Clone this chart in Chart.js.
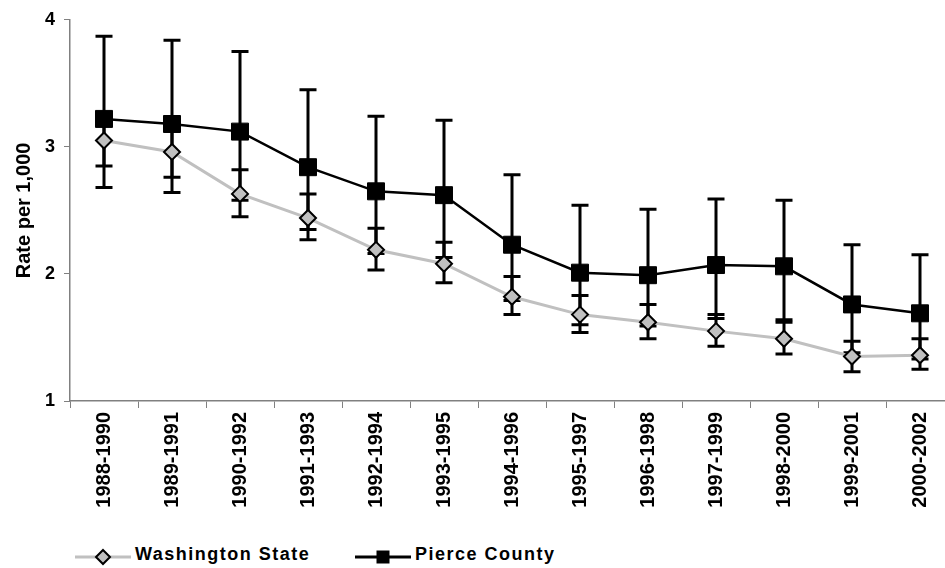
<!DOCTYPE html>
<html lang="en">
<head>
    <meta charset="UTF-8">
    <title>Rate per 1,000 - Washington State and Pierce County</title>
    <style>
        body {
            margin: 0;
            background-color: #fff;
            font-family: "Liberation Sans", Arial, sans-serif;
        }

        #wrap {
            position: relative;
            width: 945px;
            height: 568px;
            overflow: hidden;
        }

        canvas {
            position: absolute;
            left: 0;
            top: 0;
        }

        .legend-item {
            position: absolute;
            top: 544px;
            height: 22px;
        }

        .legend-item svg {
            position: absolute;
            left: 0;
            top: 3px;
        }

        .legend-item span {
            position: absolute;
            top: 0;
            left: 60px;
            font-weight: bold;
            font-size: 18px;
            line-height: 20px;
            letter-spacing: 1.5px;
            white-space: nowrap;
            color: #000;
        }
    </style>
</head>
<body>
    <div id="wrap">
        <canvas id="rate-chart" width="970" height="525"></canvas>

        <div class="legend-item" style="left: 75px;">
            <svg width="56" height="20">
                <line x1="0" y1="10" x2="56" y2="10" stroke="#c0c0c0" stroke-width="3"/>
                <polygon points="28,3 35,10 28,17 21,10" fill="#c0c0c0" stroke="#000" stroke-width="2"/>
            </svg>
            <span>Washington State</span>
        </div>
        <div class="legend-item" style="left: 355px;">
            <svg width="56" height="20">
                <line x1="0" y1="10" x2="56" y2="10" stroke="#000" stroke-width="3"/>
                <rect x="21.5" y="3.5" width="13" height="13" fill="#000"/>
            </svg>
            <span>Pierce County</span>
        </div>
    </div>

    <script src="https://cdn.jsdelivr.net/npm/chart.js"></script>
    <script>
        const categories = [
            '1988-1990', '1989-1991', '1990-1992', '1991-1993', '1992-1994',
            '1993-1995', '1994-1996', '1995-1997', '1996-1998', '1997-1999',
            '1998-2000', '1999-2001', '2000-2002'
        ];

        // Washington State rate and confidence interval
        const waRate  = [3.05, 2.96, 2.63, 2.44, 2.19, 2.08, 1.82, 1.68, 1.62, 1.55, 1.49, 1.35, 1.36];
        const waLower = [2.85, 2.76, 2.45, 2.27, 2.03, 1.93, 1.68, 1.54, 1.49, 1.43, 1.37, 1.23, 1.25];
        const waUpper = [3.25, 3.15, 2.82, 2.63, 2.36, 2.25, 1.98, 1.83, 1.76, 1.68, 1.62, 1.47, 1.49];

        // Pierce County rate and confidence interval
        const pierceRate  = [3.22, 3.18, 3.12, 2.84, 2.65, 2.62, 2.23, 2.01, 1.99, 2.07, 2.06, 1.76, 1.69];
        const pierceLower = [2.68, 2.64, 2.58, 2.35, 2.16, 2.13, 1.79, 1.60, 1.59, 1.65, 1.64, 1.38, 1.33];
        const pierceUpper = [3.87, 3.84, 3.75, 3.45, 3.24, 3.21, 2.78, 2.54, 2.51, 2.59, 2.58, 2.23, 2.15];

        const yMin = 1;
        const yMax = 4;

        const axisColor = '#808080';
        const fontFamily = '"Liberation Sans", Arial, sans-serif';

        // error bars go under the lines and markers
        const errorBars = {
            id: 'errorBars',
            beforeDatasetsDraw(chart) {
                const ctx = chart.ctx;
                const x = chart.scales.x;
                const y = chart.scales.y;
                ctx.save();
                ctx.strokeStyle = '#000';
                ctx.lineWidth = 3;
                chart.data.datasets.forEach(ds => {
                    ds.data.forEach((v, i) => {
                        const px = x.getPixelForValue(i);
                        const top = y.getPixelForValue(ds.upper[i]);
                        const bot = y.getPixelForValue(ds.lower[i]);
                        ctx.beginPath();
                        ctx.moveTo(px, top);
                        ctx.lineTo(px, bot);
                        ctx.moveTo(px - 8.5, top);
                        ctx.lineTo(px + 8.5, top);
                        ctx.moveTo(px - 8.5, bot);
                        ctx.lineTo(px + 8.5, bot);
                        ctx.stroke();
                    });
                });
                ctx.restore();
            }
        };

        const ctx = document.getElementById('rate-chart').getContext('2d');

        const chart = new Chart(ctx, {
            type: 'line',
            data: {
                labels: categories,
                datasets: [
                    {
                        label: 'Washington State',
                        data: waRate,
                        lower: waLower,
                        upper: waUpper,
                        borderColor: '#c0c0c0',
                        borderWidth: 3,
                        pointStyle: 'rectRot',
                        pointRadius: 8,
                        pointBackgroundColor: '#c0c0c0',
                        pointBorderColor: '#000',
                        pointBorderWidth: 2,
                        tension: 0
                    },
                    {
                        label: 'Pierce County',
                        data: pierceRate,
                        lower: pierceLower,
                        upper: pierceUpper,
                        borderColor: '#000',
                        borderWidth: 2.5,
                        pointStyle: 'rect',
                        pointRadius: 12,
                        pointBackgroundColor: '#000',
                        pointBorderColor: '#000',
                        pointBorderWidth: 1,
                        tension: 0
                    }
                ]
            },
            options: {
                responsive: false,
                animation: false,
                layout: {
                    padding: { top: 19, right: 16, bottom: 17, left: 0 }
                },
                plugins: {
                    legend: { display: false },
                    tooltip: { enabled: false }
                },
                scales: {
                    x: {
                        offset: true,
                        grid: {
                            offset: true,
                            drawOnChartArea: false,
                            drawTicks: true,
                            tickLength: 7,
                            color: axisColor,
                            lineWidth: 1
                        },
                        border: { display: true, color: axisColor, width: 1.5 },
                        ticks: {
                            minRotation: 90,
                            maxRotation: 90,
                            autoSkip: false,
                            padding: 4,
                            color: '#000',
                            font: { family: fontFamily, size: 20, weight: 'bold' }
                        }
                    },
                    y: {
                        min: yMin,
                        max: yMax,
                        grid: {
                            drawOnChartArea: false,
                            drawTicks: true,
                            tickLength: 6,
                            color: axisColor,
                            lineWidth: 1
                        },
                        border: { display: true, color: axisColor, width: 1.5 },
                        ticks: {
                            stepSize: 1,
                            padding: 9,
                            color: '#000',
                            font: { family: fontFamily, size: 18, weight: 'bold' }
                        },
                        title: {
                            display: true,
                            text: 'Rate per 1,000',
                            color: '#000',
                            padding: { top: 7, bottom: 0 },
                            font: { family: fontFamily, size: 20, weight: 'bold' }
                        }
                    }
                }
            },
            plugins: [errorBars]
        });

        // nudge the padding so the plot area sits where the reference has it
        const want = { left: 70, top: 19, right: 954, bottom: 401 };
        const pad = chart.options.layout.padding;
        pad.left = Math.max(0, pad.left + want.left - chart.chartArea.left);
        pad.top += want.top - chart.chartArea.top;
        pad.right += chart.chartArea.right - want.right;
        pad.bottom += chart.chartArea.bottom - want.bottom;
        chart.update();
    </script>
</body>
</html>
